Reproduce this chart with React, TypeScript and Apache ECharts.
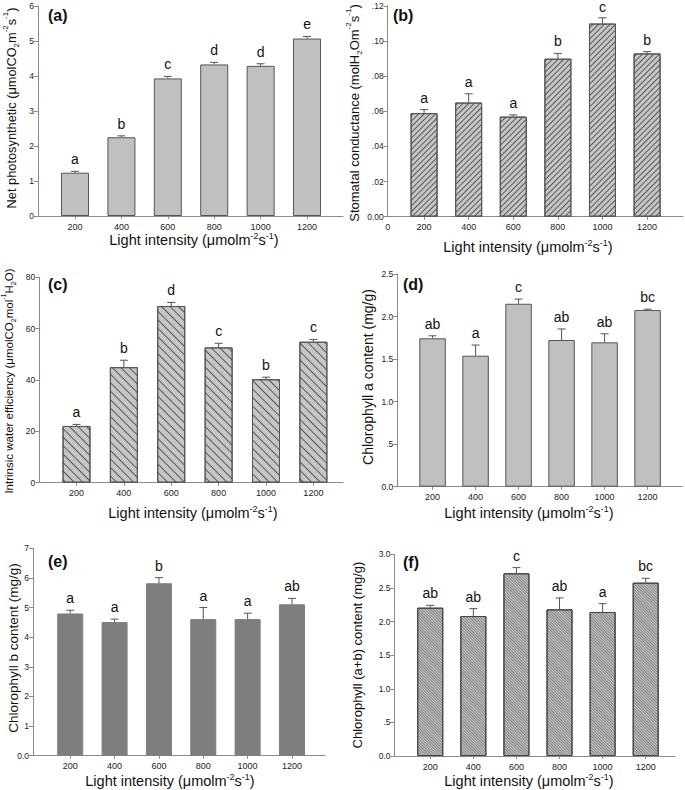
import React, { useEffect, useRef } from "react";
import * as echarts from "echarts";

// ---------- data ----------
const lightLevels = [200, 400, 600, 800, 1000, 1200];

const netPhotosynthetic = [1.237, 2.25, 3.93, 4.33, 4.29, 5.07];
const netPhotosyntheticErr = [0.04, 0.04, 0.06, 0.06, 0.06, 0.06];
const netPhotosyntheticSig = ["a", "b", "c", "d", "d", "e"];

const stomatalConductance = [0.059, 0.065, 0.057, 0.09, 0.11, 0.093];
const stomatalConductanceErr = [0.002, 0.005, 0.001, 0.003, 0.0033, 0.001];
const stomatalConductanceSig = ["a", "a", "a", "b", "c", "b"];

const waterEfficiency = [22.1, 45, 68.8, 52.7, 40.3, 54.9];
const waterEfficiencyErr = [0.6, 2.7, 1.4, 1.6, 0.8, 0.9];
const waterEfficiencySig = ["a", "b", "d", "c", "b", "c"];

const chlorophyllA = [1.744, 1.54, 2.15, 1.724, 1.697, 2.077];
const chlorophyllAErr = [0.03, 0.125, 0.055, 0.13, 0.1, 0.01];
const chlorophyllASig = ["ab", "a", "c", "ab", "ab", "bc"];

const chlorophyllB = [4.8, 4.51, 5.82, 4.61, 4.61, 5.11];
const chlorophyllBErr = [0.11, 0.1, 0.19, 0.39, 0.2, 0.2];
const chlorophyllBSig = ["a", "a", "b", "a", "a", "ab"];

const chlorophyllAB = [2.206, 2.082, 2.717, 2.181, 2.142, 2.578];
const chlorophyllABErr = [0.035, 0.11, 0.085, 0.17, 0.124, 0.065];
const chlorophyllABSig = ["ab", "ab", "c", "ab", "a", "bc"];

const yTicksA = ["0", "1", "2", "3", "4", "5", "6"];
const yTicksB = ["0.00", ".02", ".04", ".06", ".08", ".10", ".12"];
const yTicksC = ["0", "20", "40", "60", "80"];
const yTicksD = ["0.0", ".5", "1.0", "1.5", "2.0", "2.5"];
const yTicksE = ["0.0", "1", "2", "3", "4", "5", "6", "7"];
const yTicksF = ["0.0", ".5", "1.0", "1.5", "2.0", "2.5", "3.0"];

const FONT = "Liberation Sans, Arial, Helvetica, sans-serif";

export default function App() {
  const ref = useRef<HTMLDivElement>(null);

  useEffect(() => {
    if (!ref.current) return;
    const chart = echarts.init(ref.current, undefined, { renderer: "svg" });

    const panels = [
      {
        tag: "(a)", vals: netPhotosynthetic, errs: netPhotosyntheticErr, sig: netPhotosyntheticSig,
        ticks: yTicksA, yMax: 6, yInt: 1, zeroLabel: false,
        left: 38, top: 6, bottom: 216, right: 343, xMin: 40.5, xMax: 1355, barW: 28,
        fill: "#c0c0c0", border: "#555", decal: null as any,
        tagPos: [48, 16], yName: "{n|Net photosynthetic (μmolCO}{b|2}{n|m}{s|-2}{n|s}{s|-1}{n|)}",
        yNamePos: [11, 108], yFont: 12.8, xNamePos: [194, 240],
      },
      {
        tag: "(b)", vals: stomatalConductance, errs: stomatalConductanceErr, sig: stomatalConductanceSig,
        ticks: yTicksB, yMax: 0.12, yInt: 0.02, zeroLabel: true,
        left: 387.7, top: 6, bottom: 216.7, right: 683, xMin: 37, xMax: 1361, barW: 27,
        fill: "#c6c6c6", border: "#555",
        decal: { symbol: "rect", symbolSize: 1, color: "rgba(40,40,40,0.7)", dashArrayX: [1, 0], dashArrayY: [1, 3], rotation: -Math.PI / 4 },
        tagPos: [393, 16], yName: "{n|Stomatal conductance (molH}{b|2}{n|Om}{s|-2}{n|s}{s|-1}{n|)}",
        yNamePos: [354, 113], yFont: 13, xNamePos: [528, 247],
      },
      {
        tag: "(c)", vals: waterEfficiency, errs: waterEfficiencyErr, sig: waterEfficiencySig,
        ticks: yTicksC, yMax: 80, yInt: 20, zeroLabel: false,
        left: 39.3, top: 277.3, bottom: 482.7, right: 343, xMin: 43, xMax: 1325, barW: 28,
        fill: "#c6c6c6", border: "#555",
        decal: { symbol: "rect", symbolSize: 1, color: "rgba(40,40,40,0.7)", dashArrayX: [1, 0], dashArrayY: [1, 5], rotation: Math.PI / 4 },
        tagPos: [48, 285], yName: "{n|Intrinsic water efficiency (μmolCO}{b|2}{n|mol}{s|-1}{n|H}{b|2}{n|O)}",
        yNamePos: [9, 381], yFont: 11.5, xNamePos: [193, 513],
      },
      {
        tag: "(d)", vals: chlorophyllA, errs: chlorophyllAErr, sig: chlorophyllASig,
        ticks: yTicksD, yMax: 2.5, yInt: 0.5, zeroLabel: false,
        left: 397.3, top: 274, bottom: 486.7, right: 682, xMin: 36, xMax: 1360, barW: 26.5,
        fill: "#c0c0c0", border: "#555", decal: null as any,
        tagPos: [403, 285], yName: "{n|Chlorophyll a content (mg/g)}",
        yNamePos: [368, 377], yFont: 14, xNamePos: [529, 513],
      },
      {
        tag: "(e)", vals: chlorophyllB, errs: chlorophyllBErr, sig: chlorophyllBSig,
        ticks: yTicksE, yMax: 7, yInt: 1, zeroLabel: false,
        left: 33, top: 548.3, bottom: 755.7, right: 325, xMin: 32, xMax: 1349, barW: 26,
        fill: "#7e7e7e", border: "#7e7e7e", decal: null as any,
        tagPos: [48, 562], yName: "{n|Chlorophyll b content (mg/g)}",
        yNamePos: [13, 648], yFont: 13.5, xNamePos: [170, 781],
      },
      {
        tag: "(f)", vals: chlorophyllAB, errs: chlorophyllABErr, sig: chlorophyllABSig,
        ticks: yTicksF, yMax: 3, yInt: 0.5, zeroLabel: false,
        left: 394.5, top: 554.3, bottom: 756, right: 675, xMin: 34, xMax: 1336, barW: 26,
        fill: "#cdcdcd", border: "#444",
        decal: { symbol: "rect", symbolSize: 1, color: "rgba(60,60,60,0.55)", dashArrayX: [1, 0], dashArrayY: [1, 1], rotation: Math.PI / 4 },
        tagPos: [403, 563], yName: "{n|Chlorophyll (a+b) content (mg/g)}",
        yNamePos: [357, 655], yFont: 13, xNamePos: [529, 781],
      },
    ];

    const grid: any[] = [];
    const xAxis: any[] = [];
    const yAxis: any[] = [];
    const series: any[] = [];
    const graphic: any[] = [];

    panels.forEach((p, i) => {
      grid.push({
        left: p.left, top: p.top, width: p.right - p.left, height: p.bottom - p.top,
        containLabel: false, outerBoundsMode: "none",
      });
      const labelVals = p.zeroLabel ? [p.xMin, ...lightLevels] : lightLevels;
      xAxis.push({
        type: "value", gridIndex: i, min: p.xMin, max: p.xMax,
        axisLine: { show: true, onZero: false, lineStyle: { color: "#8a8a8a", width: 1 } },
        axisTick: { show: true, customValues: lightLevels, length: 3, lineStyle: { color: "#8a8a8a" } },
        axisLabel: {
          customValues: labelVals, fontSize: 9, color: "#222", fontFamily: FONT, margin: 6,
          formatter: (v: number) => (Math.abs(v - p.xMin) < 1e-6 ? "0" : String(v)),
        },
        splitLine: { show: false },
      });
      yAxis.push({
        type: "value", gridIndex: i, min: 0, max: p.yMax, interval: p.yInt,
        axisLine: { show: true, lineStyle: { color: "#8a8a8a", width: 1 } },
        axisTick: { show: true, length: 4, lineStyle: { color: "#8a8a8a" } },
        axisLabel: {
          fontSize: 8.5, color: "#222", fontFamily: FONT, margin: 4,
          formatter: (v: number) => p.ticks[Math.round(v / p.yInt)] ?? "",
        },
        splitLine: { show: false },
      });
      series.push({
        type: "bar", xAxisIndex: i, yAxisIndex: i, barWidth: p.barW,
        data: lightLevels.map((x, j) => [x, p.vals[j]]),
        itemStyle: {
          color: p.fill, borderColor: p.border, borderWidth: 1,
          ...(p.decal ? { decal: p.decal } : {}),
        },
        z: 2,
      });
      const sig = p.sig;
      series.push({
        type: "custom", xAxisIndex: i, yAxisIndex: i, z: 5,
        data: lightLevels.map((x, j) => [x, p.vals[j], p.errs[j]]),
        renderItem: (params: any, api: any) => {
          const x = api.value(0), m = api.value(1), e = api.value(2);
          const p0 = api.coord([x, m]);
          const p1 = api.coord([x, m + e]);
          return {
            type: "group",
            children: [
              { type: "line", shape: { x1: p0[0], y1: p0[1], x2: p1[0], y2: p1[1] }, style: { stroke: "#555", lineWidth: 1 } },
              { type: "line", shape: { x1: p1[0] - 4, y1: p1[1], x2: p1[0] + 4, y2: p1[1] }, style: { stroke: "#555", lineWidth: 1 } },
              {
                type: "text", x: p1[0], y: Math.max(p1[1] - 5, 14),
                style: {
                  text: sig[params.dataIndex], fontSize: 14, fontFamily: FONT, fill: "#111",
                  align: "center", verticalAlign: "bottom", textAlign: "center", textVerticalAlign: "bottom",
                },
              },
            ],
          };
        },
      });

      graphic.push({
        type: "text", left: p.tagPos[0], top: p.tagPos[1] - 9,
        style: { text: p.tag, fontSize: 16, fontWeight: "bold", fontFamily: FONT, fill: "#111" },
      });
      const f = p.yFont;
      graphic.push({
        type: "text", x: p.yNamePos[0], y: p.yNamePos[1], rotation: Math.PI / 2,
        style: {
          text: p.yName, fontFamily: FONT, fill: "#111",
          align: "center", verticalAlign: "middle", textAlign: "center", textVerticalAlign: "middle",
          rich: {
            n: { fontSize: f, fontFamily: FONT, fill: "#111", lineHeight: f + 6, verticalAlign: "middle" },
            s: { fontSize: f * 0.62, fontFamily: FONT, fill: "#111", lineHeight: f * 0.62, verticalAlign: "top" },
            b: { fontSize: f * 0.62, fontFamily: FONT, fill: "#111", lineHeight: f * 0.8, verticalAlign: "bottom" },
          },
        },
      });
      graphic.push({
        type: "text", x: p.xNamePos[0], y: p.xNamePos[1],
        style: {
          text: "{n|Light intensity (μmolm}{s|-2}{n|s}{s|-1}{n|)}", fontFamily: FONT, fill: "#111",
          align: "center", verticalAlign: "middle", textAlign: "center", textVerticalAlign: "middle",
          rich: {
            n: { fontSize: 14.5, fontFamily: FONT, fill: "#111", lineHeight: 17, verticalAlign: "middle" },
            s: { fontSize: 9, fontFamily: FONT, fill: "#111", lineHeight: 9, verticalAlign: "top" },
          },
        },
      });
    });

    chart.setOption({
      animation: false,
      backgroundColor: "#ffffff",
      textStyle: { fontFamily: FONT },
      grid, xAxis, yAxis, series, graphic,
    });

    return () => chart.dispose();
  }, []);

  return (
    <div
      ref={ref}
      style={{ position: "absolute", left: 0, top: 0, width: 685, height: 790, background: "#fff" }}
    />
  );
}
